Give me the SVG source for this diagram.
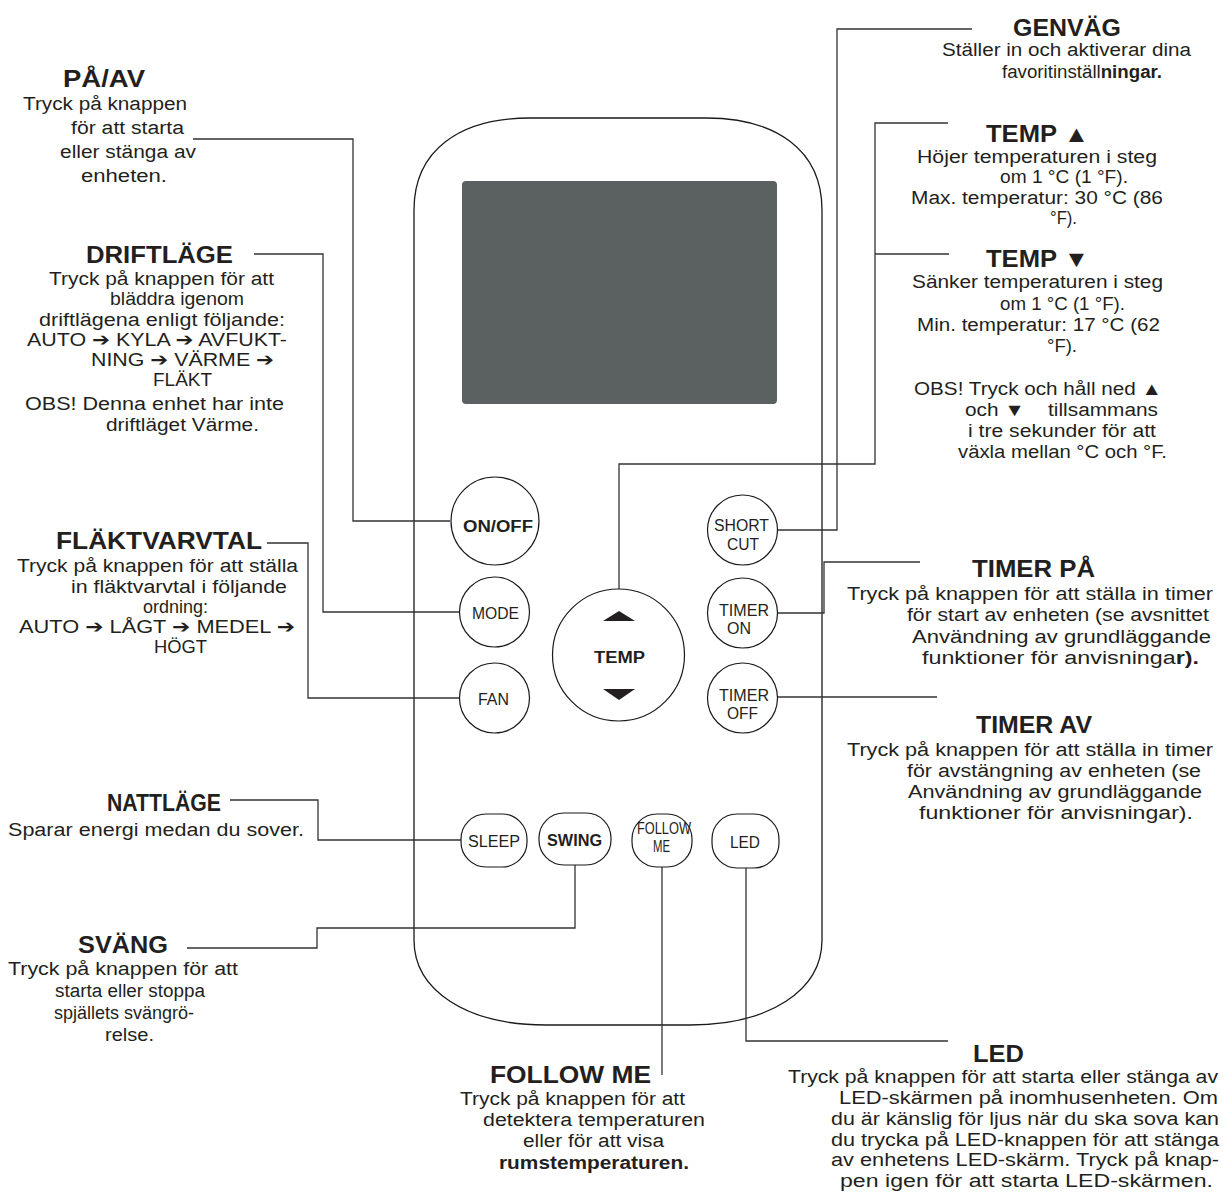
<svg xmlns="http://www.w3.org/2000/svg" width="1223" height="1192" viewBox="0 0 1223 1192">
<style>
.h{font-family:"Liberation Sans",Arial,sans-serif;font-weight:bold;font-size:23px;fill:#231f20}
.b{font-family:"Liberation Sans","DejaVu Sans",Arial,sans-serif;font-size:18px;fill:#231f20}
.bb{font-weight:bold}
.k{font-family:"Liberation Sans",Arial,sans-serif;font-size:16px;fill:#231f20}
.kb{font-family:"Liberation Sans",Arial,sans-serif;font-weight:bold;font-size:16px;fill:#231f20}
.btn{fill:#fff;stroke:#1a1a1a;stroke-width:1.2}
.con{fill:none;stroke:#333;stroke-width:1.3}
</style>
<rect width="1223" height="1192" fill="#fff"/>
<g id="remote">
<path d="M414,210 C414,150 460,118 530,118 L706,118 C776,118 822,150 822,210 L822,940 C822,990 770,1025 690,1025 L546,1025 C466,1025 414,990 414,940 Z" fill="#fff" stroke="#1a1a1a" stroke-width="1.3"/>
<rect x="462" y="181" width="315" height="223" rx="4" fill="#5a6160"/>
</g>
<g id="connectors" class="con">
<path d="M450,521 H353 V139 H193"/>
<path d="M459,612 H323 V254 H254"/>
<path d="M459,698 H308 V543 H267"/>
<path d="M461,840 H318 V800 H230"/>
<path d="M575,865 V928 H317 V948 H187"/>
<path d="M662,867 V1075"/>
<path d="M746,868 V1041 H948"/>
<path d="M619,589 V464 H875 V123 H948 M875,254 H949"/>
<path d="M777,530 H837 V29 H972"/>
<path d="M777,613 H824 V562 H920"/>
<path d="M777,697 H937"/>
</g>
<g id="btn-onoff"><circle class="btn" cx="495" cy="521" r="44"/><text class="kb" x="463" y="532" textLength="70" lengthAdjust="spacingAndGlyphs" font-size="17">ON/OFF</text></g>
<g id="btn-mode"><circle class="btn" cx="494.5" cy="612" r="35"/><text class="k" x="472" y="619" textLength="47" lengthAdjust="spacingAndGlyphs">MODE</text></g>
<g id="btn-fan"><circle class="btn" cx="494.5" cy="698" r="35"/><text class="k" x="478" y="705" textLength="31" lengthAdjust="spacingAndGlyphs">FAN</text></g>
<g id="btn-temp"><circle class="btn" cx="618.5" cy="655" r="66"/>
<polygon points="603,621 635,621 619,611" fill="#231f20"/>
<polygon points="603,689 635,689 619,700" fill="#231f20"/>
<text class="kb" x="594" y="663" textLength="51" lengthAdjust="spacingAndGlyphs">TEMP</text></g>
<g id="btn-shortcut"><circle class="btn" cx="742.5" cy="530" r="35"/><text class="k" x="714" y="531" textLength="55" lengthAdjust="spacingAndGlyphs">SHORT</text><text class="k" x="727" y="550" textLength="32" lengthAdjust="spacingAndGlyphs">CUT</text></g>
<g id="btn-timeron"><circle class="btn" cx="742.5" cy="613" r="35"/><text class="k" x="719" y="616" textLength="50" lengthAdjust="spacingAndGlyphs">TIMER</text><text class="k" x="727" y="634" textLength="24" lengthAdjust="spacingAndGlyphs">ON</text></g>
<g id="btn-timeroff"><circle class="btn" cx="742.5" cy="698" r="35"/><text class="k" x="719" y="701" textLength="50" lengthAdjust="spacingAndGlyphs">TIMER</text><text class="k" x="727" y="719" textLength="31" lengthAdjust="spacingAndGlyphs">OFF</text></g>
<g id="btn-sleep"><rect class="btn" x="461" y="814" width="66" height="53" rx="25"/><text class="k" x="468" y="847" textLength="52" lengthAdjust="spacingAndGlyphs">SLEEP</text></g>
<g id="btn-swing"><rect class="btn" x="539" y="813" width="72" height="52" rx="25"/><text class="kb" x="547" y="846" textLength="55" lengthAdjust="spacingAndGlyphs" font-size="15">SWING</text></g>
<g id="btn-followme"><rect class="btn" x="632" y="814" width="60" height="53" rx="25"/><text class="k" x="637" y="834" textLength="54" lengthAdjust="spacingAndGlyphs" font-size="13">FOLLOW</text><text class="k" x="653" y="852" textLength="17" lengthAdjust="spacingAndGlyphs" font-size="13">ME</text></g>
<g id="btn-led"><rect class="btn" x="712" y="814" width="67" height="54" rx="25"/><text class="k" x="730" y="848" textLength="30" lengthAdjust="spacingAndGlyphs">LED</text></g>

<g id="label-paav">
<text class="h" x="63" y="87" textLength="82" lengthAdjust="spacingAndGlyphs">PÅ/AV</text>
<text class="b" x="23" y="110" textLength="164" lengthAdjust="spacingAndGlyphs">Tryck på knappen</text>
<text class="b" x="71" y="134" textLength="113" lengthAdjust="spacingAndGlyphs">för att starta</text>
<text class="b" x="60" y="158" textLength="136" lengthAdjust="spacingAndGlyphs">eller stänga av</text>
<text class="b" x="81" y="182" textLength="86" lengthAdjust="spacingAndGlyphs">enheten.</text>
</g>
<g id="label-driftlage">
<text class="h" x="86" y="263" textLength="147" lengthAdjust="spacingAndGlyphs">DRIFTLÄGE</text>
<text class="b" x="49" y="285" textLength="225" lengthAdjust="spacingAndGlyphs">Tryck på knappen för att</text>
<text class="b" x="110" y="305" textLength="134" lengthAdjust="spacingAndGlyphs">bläddra igenom</text>
<text class="b" x="39" y="326" textLength="246" lengthAdjust="spacingAndGlyphs">driftlägena enligt följande:</text>
<text class="b" x="27" y="346" textLength="260" lengthAdjust="spacingAndGlyphs">AUTO ➔ KYLA ➔ AVFUKT-</text>
<text class="b" x="91" y="366" textLength="183" lengthAdjust="spacingAndGlyphs">NING ➔ VÄRME ➔</text>
<text class="b" x="153" y="386" textLength="59" lengthAdjust="spacingAndGlyphs">FLÄKT</text>
<text class="b" x="25" y="410" textLength="259" lengthAdjust="spacingAndGlyphs">OBS! Denna enhet har inte</text>
<text class="b" x="106" y="431" textLength="153" lengthAdjust="spacingAndGlyphs">driftläget Värme.</text>
</g>
<g id="label-flaktvarvtal">
<text class="h" x="56" y="549" textLength="206" lengthAdjust="spacingAndGlyphs">FLÄKTVARVTAL</text>
<text class="b" x="17" y="572" textLength="281" lengthAdjust="spacingAndGlyphs">Tryck på knappen för att ställa</text>
<text class="b" x="71" y="593" textLength="216" lengthAdjust="spacingAndGlyphs">in fläktvarvtal i följande</text>
<text class="b" x="143" y="613" textLength="65" lengthAdjust="spacingAndGlyphs">ordning:</text>
<text class="b" x="19" y="633" textLength="276" lengthAdjust="spacingAndGlyphs">AUTO ➔ LÅGT ➔ MEDEL ➔</text>
<text class="b" x="154" y="653" textLength="53" lengthAdjust="spacingAndGlyphs">HÖGT</text>
</g>
<g id="label-nattlage">
<text class="h" x="107" y="811" textLength="114" lengthAdjust="spacingAndGlyphs">NATTLÄGE</text>
<text class="b" x="8" y="836" textLength="296" lengthAdjust="spacingAndGlyphs">Sparar energi medan du sover.</text>
</g>
<g id="label-svang">
<text class="h" x="78" y="953" textLength="90" lengthAdjust="spacingAndGlyphs">SVÄNG</text>
<text class="b" x="8" y="975" textLength="230" lengthAdjust="spacingAndGlyphs">Tryck på knappen för att</text>
<text class="b" x="55" y="997" textLength="150" lengthAdjust="spacingAndGlyphs">starta eller stoppa</text>
<text class="b" x="54" y="1019" textLength="140" lengthAdjust="spacingAndGlyphs">spjällets svängrö-</text>
<text class="b" x="105" y="1041" textLength="49" lengthAdjust="spacingAndGlyphs">relse.</text>
</g>
<g id="label-followme">
<text class="h" x="490" y="1083" textLength="161" lengthAdjust="spacingAndGlyphs">FOLLOW ME</text>
<text class="b" x="460" y="1105" textLength="225" lengthAdjust="spacingAndGlyphs">Tryck på knappen för att</text>
<text class="b" x="483" y="1126" textLength="222" lengthAdjust="spacingAndGlyphs">detektera temperaturen</text>
<text class="b" x="523" y="1147" textLength="141" lengthAdjust="spacingAndGlyphs">eller för att visa</text>
<text class="b bb" x="499" y="1169" textLength="190" lengthAdjust="spacingAndGlyphs">rumstemperaturen.</text>
</g>
<g id="label-led">
<text class="h" x="973" y="1062" textLength="51" lengthAdjust="spacingAndGlyphs">LED</text>
<text class="b" x="788" y="1083" textLength="430" lengthAdjust="spacingAndGlyphs">Tryck på knappen för att starta eller stänga av</text>
<text class="b" x="839" y="1104" textLength="379" lengthAdjust="spacingAndGlyphs">LED-skärmen på inomhusenheten. Om</text>
<text class="b" x="831" y="1125" textLength="388" lengthAdjust="spacingAndGlyphs">du är känslig för ljus när du ska sova kan</text>
<text class="b" x="831" y="1146" textLength="388" lengthAdjust="spacingAndGlyphs">du trycka på LED-knappen för att stänga</text>
<text class="b" x="831" y="1166" textLength="388" lengthAdjust="spacingAndGlyphs">av enhetens LED-skärm. Tryck på knap-</text>
<text class="b" x="840" y="1187" textLength="373" lengthAdjust="spacingAndGlyphs">pen igen för att starta LED-skärmen.</text>
</g>
<g id="label-genvag">
<text class="h" x="1013" y="36" textLength="108" lengthAdjust="spacingAndGlyphs">GENVÄG</text>
<text class="b" x="942" y="56" textLength="249" lengthAdjust="spacingAndGlyphs">Ställer in och aktiverar dina</text>
<text class="b" x="1002" y="78" textLength="160" lengthAdjust="spacingAndGlyphs">favoritinställ<tspan class="bb">ningar.</tspan></text>
</g>
<g id="label-tempup">
<text class="h" x="986" y="142" textLength="103" lengthAdjust="spacingAndGlyphs">TEMP ▲</text>
<text class="b" x="917" y="163" textLength="240" lengthAdjust="spacingAndGlyphs">Höjer temperaturen i steg</text>
<text class="b" x="1000" y="183" textLength="128" lengthAdjust="spacingAndGlyphs">om 1 °C (1 °F).</text>
<text class="b" x="911" y="204" textLength="252" lengthAdjust="spacingAndGlyphs">Max. temperatur: 30 °C (86</text>
<text class="b" x="1050" y="224" textLength="27" lengthAdjust="spacingAndGlyphs">°F).</text>
</g>
<g id="label-tempdown">
<text class="h" x="986" y="267" textLength="103" lengthAdjust="spacingAndGlyphs">TEMP ▼</text>
<text class="b" x="912" y="288" textLength="251" lengthAdjust="spacingAndGlyphs">Sänker temperaturen i steg</text>
<text class="b" x="1000" y="310" textLength="125" lengthAdjust="spacingAndGlyphs">om 1 °C (1 °F).</text>
<text class="b" x="917" y="331" textLength="243" lengthAdjust="spacingAndGlyphs">Min. temperatur: 17 °C (62</text>
<text class="b" x="1047" y="352" textLength="30" lengthAdjust="spacingAndGlyphs">°F).</text>
<text class="b" x="914" y="395" textLength="248" lengthAdjust="spacingAndGlyphs">OBS! Tryck och håll ned ▲</text>
<text class="b" x="965" y="416" textLength="193" lengthAdjust="spacingAndGlyphs" xml:space="preserve">och ▼    tillsammans</text>
<text class="b" x="968" y="437" textLength="188" lengthAdjust="spacingAndGlyphs">i tre sekunder för att</text>
<text class="b" x="958" y="458" textLength="209" lengthAdjust="spacingAndGlyphs">växla mellan °C och °F.</text>
</g>
<g id="label-timerpa">
<text class="h" x="972" y="577" textLength="123" lengthAdjust="spacingAndGlyphs">TIMER PÅ</text>
<text class="b" x="847" y="600" textLength="366" lengthAdjust="spacingAndGlyphs">Tryck på knappen för att ställa in timer</text>
<text class="b" x="907" y="621" textLength="302" lengthAdjust="spacingAndGlyphs">för start av enheten (se avsnittet</text>
<text class="b" x="912" y="643" textLength="299" lengthAdjust="spacingAndGlyphs">Användning av grundläggande</text>
<text class="b" x="922" y="664" textLength="277" lengthAdjust="spacingAndGlyphs">funktioner för anvisninga<tspan class="bb">r).</tspan></text>
</g>
<g id="label-timerav">
<text class="h" x="976" y="733" textLength="116" lengthAdjust="spacingAndGlyphs">TIMER AV</text>
<text class="b" x="847" y="756" textLength="366" lengthAdjust="spacingAndGlyphs">Tryck på knappen för att ställa in timer</text>
<text class="b" x="907" y="777" textLength="294" lengthAdjust="spacingAndGlyphs">för avstängning av enheten (se</text>
<text class="b" x="908" y="798" textLength="294" lengthAdjust="spacingAndGlyphs">Användning av grundläggande</text>
<text class="b" x="919" y="819" textLength="274" lengthAdjust="spacingAndGlyphs">funktioner för anvisningar).</text>
</g>
</svg>
